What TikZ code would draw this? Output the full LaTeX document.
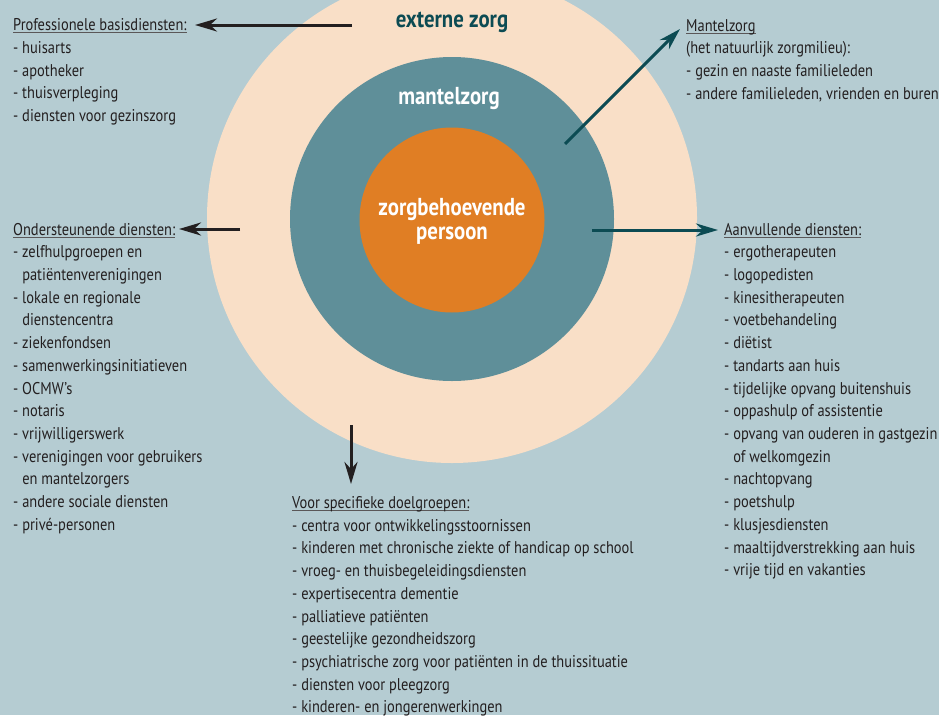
\documentclass[tikz,border=0pt]{standalone}
\usepackage{fontspec}
\setmainfont[FakeStretch=0.85]{PT Sans}
\usetikzlibrary{arrows.meta}
\definecolor{bg}{RGB}{181,204,210}
\definecolor{peach}{RGB}{249,223,199}
\definecolor{tealc}{RGB}{95,143,153}
\definecolor{orangec}{RGB}{224,126,36}
\definecolor{darkteal}{RGB}{12,75,83}
\definecolor{txt}{RGB}{35,31,32}
\newcommand\hdr[1]{\setbox0\hbox{#1}\rlap{\color{txt!75}\rule[-2.4pt]{\wd0}{0.9pt}}\box0}
\newcommand\ind{\phantom{-\ }}
\begin{document}
\begin{tikzpicture}[x=1pt,y=-1pt,
  blk/.style={anchor=north west, inner sep=0pt, align=left, text=txt, font=\fontsize{17}{22.7}\selectfont},
  lbl/.style={inner sep=0pt, align=center, font=\fontsize{24.5}{24}\selectfont\bfseries},
  blkarrow/.style={-{Stealth[length=22pt,width=13pt,inset=7pt]}, line width=3pt, draw=txt},
  tealarrow/.style={-{Stealth[length=22pt,width=13pt,inset=7pt]}, line width=3pt, draw=darkteal}]
\fill[bg] (0,0) rectangle (939,715);
\useasboundingbox (0,0) rectangle (939,715);
\begin{scope}
\clip (0,0) rectangle (939,715);
\fill[peach] (452,218) circle[radius=245];
\fill[tealc] (452,219) circle[radius=162];
\fill[orangec] (452,220) circle[radius=92.5];
\end{scope}
\node[lbl, text=darkteal] (ext) at (452,22) {externe zorg};
\node[lbl, text=white] (man) at (449,99) {mantelzorg};
\node[lbl, text=white] (zp) at (452,221) {zorgbehoevende\\persoon};
\node[blk] (prof) at (13,14.6) {\strut\hdr{Professionele basisdiensten:}\\
- huisarts\\
- apotheker\\
- thuisverpleging\\
- diensten voor gezinszorg};
\node[blk] (onder) at (13,219.1) {\strut\hdr{Ondersteunende diensten:}\\
- zelfhulpgroepen en\\
\ind patiëntenverenigingen\\
- lokale en regionale\\
\ind dienstencentra\\
- ziekenfondsen\\
- samenwerkingsinitiatieven\\
- OCMW’s\\
- notaris\\
- vrijwilligerswerk\\
- verenigingen voor gebruikers\\
\ind en mantelzorgers\\
- andere sociale diensten\\
- privé-personen};
\node[blk] (mantel) at (686,15.1) {\strut\hdr{Mantelzorg}\\
(het natuurlijk zorgmilieu):\\
- gezin en naaste familieleden\\
- andere familieleden, vrienden en buren};
\node[blk] (aanv) at (724,219.1) {\strut\hdr{Aanvullende diensten:}\\
- ergotherapeuten\\
- logopedisten\\
- kinesitherapeuten\\
- voetbehandeling\\
- diëtist\\
- tandarts aan huis\\
- tijdelijke opvang buitenshuis\\
- oppashulp of assistentie\\
- opvang van ouderen in gastgezin\\
\ind of welkomgezin\\
- nachtopvang\\
- poetshulp\\
- klusjesdiensten\\
- maaltijdverstrekking aan huis\\
- vrije tijd en vakanties};
\node[blk] (voor) at (292,492.4) {\strut\hdr{Voor specifieke doelgroepen:}\\
- centra voor ontwikkelingsstoornissen\\
- kinderen met chronische ziekte of handicap op school\\
- vroeg- en thuisbegeleidingsdiensten\\
- expertisecentra dementie\\
- palliatieve patiënten\\
- geestelijke gezondheidszorg\\
- psychiatrische zorg voor patiënten in de thuissituatie\\
- diensten voor pleegzorg\\
- kinderen- en jongerenwerkingen};
\coordinate (a1s) at (352,25);  \coordinate (a1e) at (195,25);
\coordinate (a2s) at (240,229); \coordinate (a2e) at (179,229);
\coordinate (a3s) at (565,144); \coordinate (a3e) at (680,29);
\coordinate (a4s) at (592,230); \coordinate (a4e) at (718,230);
\coordinate (a5s) at (351,425); \coordinate (a5e) at (351,484);
\draw[blkarrow] (a1s) -- (a1e);
\draw[blkarrow] (a2s) -- (a2e);
\draw[tealarrow] (a3s) -- (a3e);
\draw[tealarrow] (a4s) -- (a4e);
\draw[blkarrow] (a5s) -- (a5e);
\end{tikzpicture}
\end{document}
